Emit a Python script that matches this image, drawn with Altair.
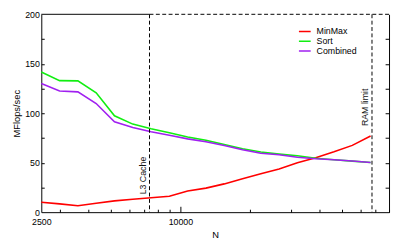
import altair as alt
import pandas as pd

# ---- data ----
N = [2500, 3000, 3600, 4320, 5184, 6221, 7465, 8958, 10750, 12899, 15479,
     18575, 22290, 26748, 32098, 38517, 46221, 55465, 66558]
minmax = [10, 8.4, 6.5, 9, 11.4, 13, 14.6, 16.1, 21.4, 24.3, 28.6, 33.7,
          38.8, 43.7, 50, 55, 61, 67.5, 77]
sort_ = [141.7, 133, 132.7, 120.6, 97.4, 89, 84.4, 80.3, 76, 72.7, 68.5,
         64.2, 60.8, 58.7, 57, 54.5, 53, 51.6, 50.3]
combined = [130, 122.5, 121.6, 109.8, 91.4, 85.6, 81.2, 77.7, 74.1, 71.2,
            67.3, 63.2, 59.6, 58.1, 55.5, 54, 53, 51.8, 50.2]
series = ["MinMax", "Sort", "Combined"]
colors = ["#ff0000", "#11ee11", "#a020f0"]

marker_N = [7350, 67500]
marker_labels = ["L3 Cache", "RAM limit"]
marker_label_y = [18, 87]

x_labels = [2500, 10000]
x_minor = [3000, 4000, 5000, 6000, 7000, 8000, 9000,
           20000, 30000, 40000, 50000, 60000, 70000, 80000]
x_major_ticks = [10000]
y_labels = [0, 50, 100, 150, 200]
y_ticks = [25, 50, 75, 100, 125, 150, 175]
x_domain = [2500, 80000]
y_domain = [0, 200]

FONT = "Liberation Sans"
W, H = 355, 202

lines_df = pd.DataFrame({
    "N": N * 3,
    "value": minmax + sort_ + combined,
    "series": [s for s in series for _ in N],
})

xscale = alt.Scale(type="log", domain=x_domain, nice=False)
yscale = alt.Scale(domain=y_domain, nice=False)

common_axis = dict(grid=False, tickColor="black", domainColor="black",
                   labelColor="black", titleColor="black")

lines = alt.Chart(lines_df).mark_line(strokeWidth=1.6).encode(
    x=alt.X("N:Q", scale=xscale,
            axis=alt.Axis(orient="bottom", values=x_labels, format="d",
                          tickSize=0, labelPadding=6, labelFlush=False,
                          labelFontSize=9, title="N", titleFontSize=9.5,
                          titleFontWeight="normal", titlePadding=3,
                          **common_axis)),
    y=alt.Y("value:Q", scale=yscale,
            axis=alt.Axis(orient="left", values=y_labels, tickSize=0,
                          labelPadding=2, labelFontSize=9,
                          title="MFlops/sec", titleFontSize=9.5,
                          titleFontWeight="normal", titlePadding=3,
                          **common_axis)),
    color=alt.Color("series:N", sort=series,
                    scale=alt.Scale(domain=series, range=colors),
                    legend=alt.Legend(orient="none", legendX=262, legendY=13,
                                      title=None, symbolType="stroke",
                                      symbolSize=144, symbolStrokeWidth=1.6,
                                      labelFontSize=9, labelFont=FONT,
                                      clipHeight=9, rowPadding=0,
                                      labelOffset=5)),
)

vr_df = pd.DataFrame({"N": marker_N})
vrules = alt.Chart(vr_df).mark_rule(strokeDash=[4, 2.5], color="black",
                                    strokeWidth=1).encode(
    x=alt.X("N:Q", scale=xscale,
            axis=alt.Axis(orient="top", offset=-H, values=x_minor,
                          labels=False, domain=False, tickSize=3,
                          title=None, **common_axis)),
)

l3 = alt.Chart(pd.DataFrame({"N": [marker_N[0]], "y": [marker_label_y[0]],
                             "label": [marker_labels[0]]})).mark_text(
    angle=270, align="left", baseline="bottom", dy=-2, fontSize=9,
    font=FONT, color="#111111").encode(
    x=alt.X("N:Q", scale=xscale,
            axis=alt.Axis(orient="top", offset=-H, values=x_major_ticks,
                          labels=False, domain=False, tickSize=6,
                          title=None, **common_axis)),
    y=alt.Y("y:Q", scale=yscale,
            axis=alt.Axis(orient="right", offset=-W, values=y_ticks,
                          labels=False, domain=False, tickSize=3,
                          title=None, **common_axis)),
    text="label:N",
)

ram = alt.Chart(pd.DataFrame({"N": [marker_N[1]], "y": [marker_label_y[1]],
                              "label": [marker_labels[1]]})).mark_text(
    angle=270, align="left", baseline="bottom", dy=-2, fontSize=9,
    font=FONT, color="#111111").encode(
    x=alt.X("N:Q", scale=xscale, axis=None),
    y=alt.Y("y:Q", scale=yscale,
            axis=alt.Axis(orient="left", offset=-W, values=y_ticks,
                          labels=False, domain=True, tickSize=4,
                          title=None, **common_axis)),
    text="label:N",
)

top_solid = alt.Chart(pd.DataFrame({"a": [x_domain[0]], "b": [marker_N[0]]})).mark_rule(
    color="black", strokeWidth=1).encode(
    x=alt.X("a:Q", scale=xscale, axis=None), x2="b:Q", y=alt.value(0))
top_dash = alt.Chart(pd.DataFrame({"a": [marker_N[0]], "b": [x_domain[1]]})).mark_rule(
    color="black", strokeWidth=1, strokeDash=[4, 2.5]).encode(
    x=alt.X("a:Q", scale=xscale, axis=None), x2="b:Q", y=alt.value(0))

chart = alt.layer(lines, vrules, l3, ram, top_solid, top_dash).resolve_axis(
    x="independent", y="independent"
).properties(
    width=W, height=H,
    autosize=alt.AutoSizeParams(type="none"),
    padding={"left": 34, "top": 4, "right": 2, "bottom": 28},
).configure_view(stroke=None).configure_axis(
    labelFont=FONT, titleFont=FONT
)

chart.save("out.html", embed_options={"renderer": "svg", "actions": False})
